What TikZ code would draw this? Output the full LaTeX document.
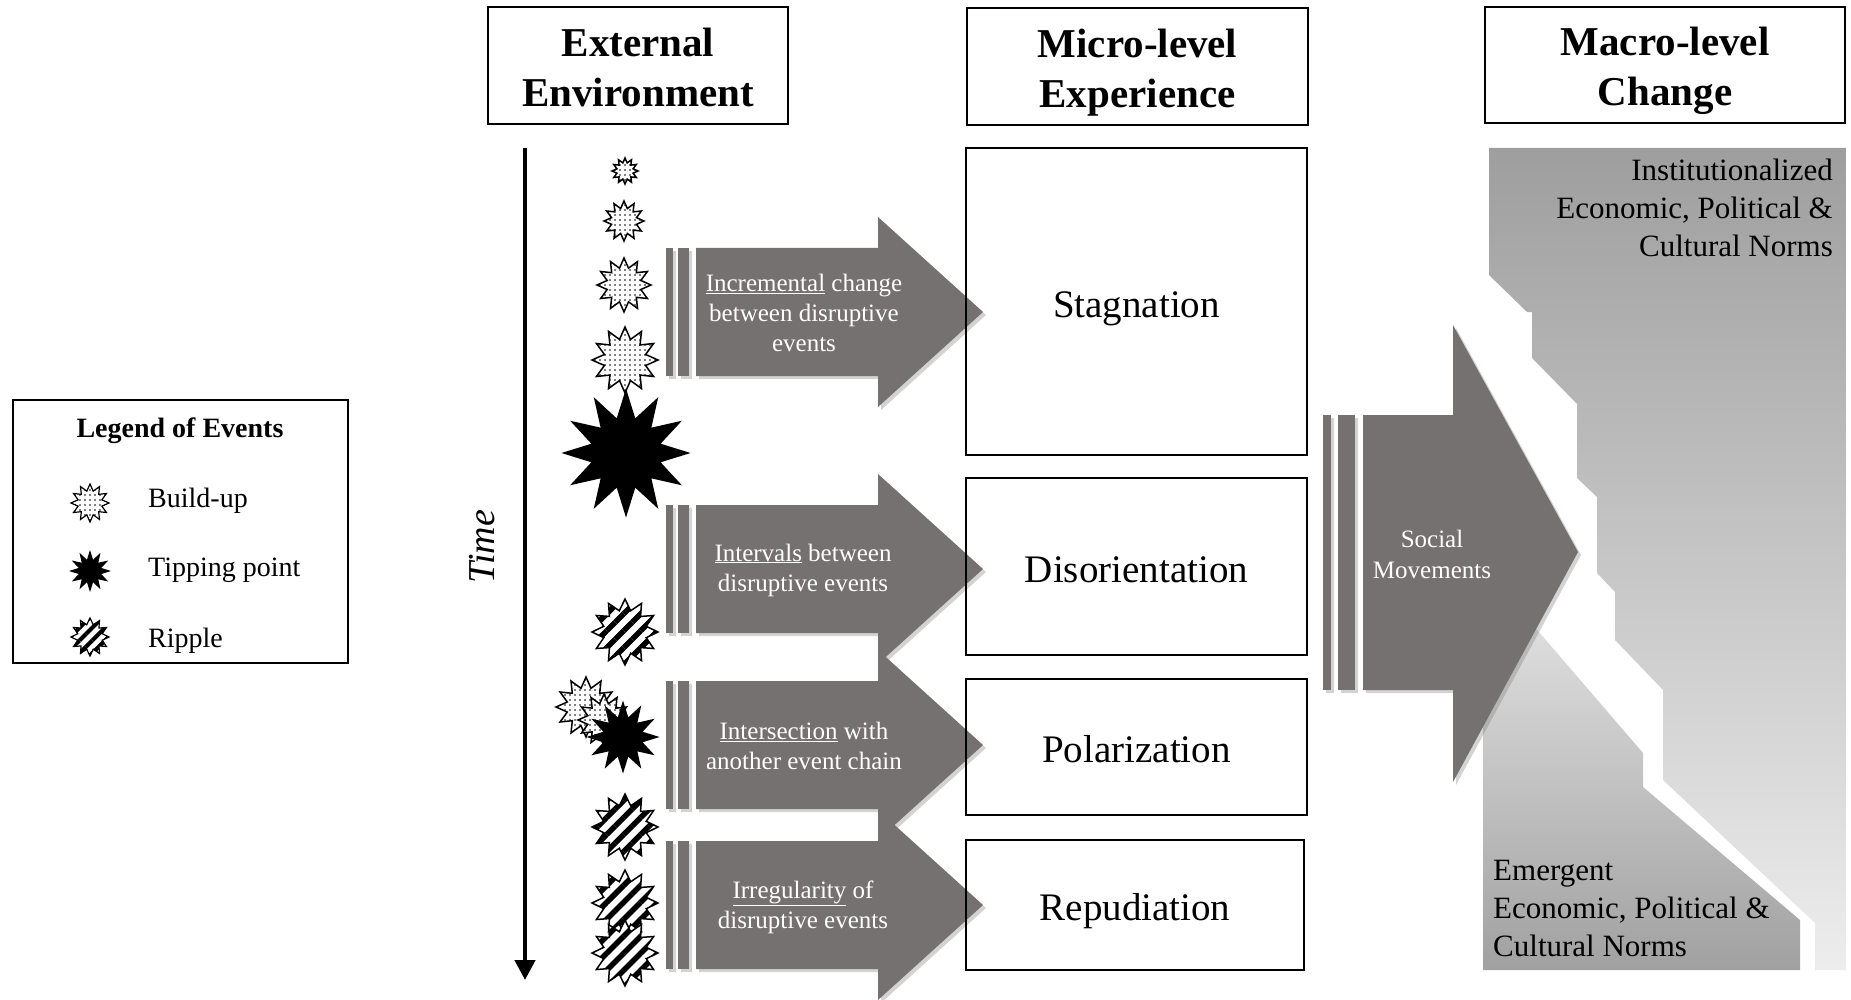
\documentclass[tikz,border=0pt]{standalone}
\usepackage{fontspec}
\setmainfont{Liberation Serif}
\usetikzlibrary{shapes.geometric,patterns.meta,shadows,arrows.meta}
\definecolor{agray}{RGB}{117,113,113}
\tikzset{
  hdrbox/.style={draw, line width=2pt, inner sep=0pt},
  hdrtext/.style={inner sep=0pt, align=center, font=\bfseries\fontsize{41}{50}\selectfont},
  mbox/.style={draw, line width=1.8pt, inner sep=0pt, align=center, text height=40pt, text depth=9pt, font=\fontsize{39}{44}\selectfont},
  atext/.style={text=white, align=center, inner sep=0pt, font=\fontsize{25}{30}\selectfont},
  ashape/.style={fill=agray, drop shadow={opacity=0.35, shadow xshift=3pt, shadow yshift=-3pt}},
  evt/.style={star, star points=12, inner sep=0pt, draw, line width=1.5pt, line join=miter},
  buildup/.style={evt, star point ratio=1.55, preaction={fill=white}, pattern={Dots[radius=0.9pt,distance=5pt]}},
  tipping/.style={evt, star point ratio=1.8, fill=black},
  ripple/.style={evt, star point ratio=1.5, preaction={fill=white}, pattern={Lines[angle=45,distance=12pt,line width=5.5pt]}},
  legtext/.style={anchor=west, inner sep=0pt, font=\fontsize{28}{32}\selectfont},
  normtext/.style={inner sep=0pt, font=\fontsize{31}{38}\selectfont}
}
\newcommand\evarrow[1]{%
  \begin{scope}[shift={(0,#1)}]
    \path[ashape] (666,-64) rectangle (673,64);
    \path[ashape] (678,-64) rectangle (689,64);
    \path[ashape] (696,-64) -- (878,-64) -- (878,-95) -- (983,0) -- (878,95) -- (878,64) -- (696,64) -- cycle;
  \end{scope}}
\begin{document}
\begin{tikzpicture}[x=1pt,y=-1pt]
\useasboundingbox (0,0) rectangle (1851,1000);

% headers
\node[hdrbox, minimum width=300pt, minimum height=117pt] (hext) at (638,65.5) {};
\node[hdrbox, minimum width=341pt, minimum height=117pt] (hmic) at (1137.5,66.5) {};
\node[hdrbox, minimum width=360pt, minimum height=116pt] (hmac) at (1665,65) {};
\node[hdrtext] (hextt) at (638,67.5) {External\\Environment};
\node[hdrtext] (hmict) at (1137.5,73) {Micro-level\\Experience};
\node[hdrtext] (hmact) at (1665,71) {Macro-level\\Change};

% legend
\node[draw, line width=1.8pt, minimum width=335pt, minimum height=263pt] (legend) at (180.5,531.5) {};
\node[inner sep=0pt, font=\bfseries\fontsize{28}{32}\selectfont] (legtitle) at (180,430.5) {Legend of Events};
\node[buildup, minimum size=38pt, line width=1.2pt] (lb) at (90,503) {};
\node[tipping, minimum size=38pt, line width=1.2pt] (lt) at (90,571) {};
\node[ripple, minimum size=38pt, line width=1.2pt, pattern={Lines[angle=45,distance=9pt,line width=4pt]}] (lr) at (90,637) {};
\node[legtext] (lbt) at (148,500.5) {Build-up};
\node[legtext] (ltt) at (148,570.5) {Tipping point};
\node[legtext] (lrt) at (148,640.5) {Ripple};

% time arrow
\coordinate (tA) at (525,148);
\coordinate (tB) at (525,980);
\draw[line width=4.5pt, -{Triangle[width=20pt,length=20pt]}] (tA) -- (tB);
\node[rotate=90, inner sep=0pt, font=\itshape\fontsize{38}{40}\selectfont] (time) at (482,547) {Time};

% macro-level shapes
\shade[top color=white!62!black, bottom color=white!93!black]
  (1489,148) -- (1846,148) -- (1846,970) -- (1815,970) -- (1815,923) -- (1663,780) -- (1663,690)
  -- (1615,640) -- (1615,592) -- (1597,573) -- (1597,497) -- (1577,478) -- (1577,404)
  -- (1532,358) -- (1532,312) -- (1527,312) -- (1489,275) -- cycle;
\shade[top color=white!91!black, bottom color=white!63!black]
  (1483,567) -- (1643,753) -- (1643,787) -- (1800,920) -- (1800,970) -- (1483,970) -- cycle;
\node[normtext, anchor=east, align=right] (inst) at (1833,208) {Institutionalized\\Economic, Political \&\\Cultural Norms};
\node[normtext, anchor=west, align=left] (emer) at (1493,908) {Emergent\\Economic, Political \&\\Cultural Norms};

% event arrows
\evarrow{312}
\evarrow{569}
\evarrow{745}
\evarrow{905}
\node[atext] (a1) at (804,313) {\underline{Incremental} change\\between disruptive\\events};
\node[atext] (a2) at (803,570) {\underline{Intervals} between\\disruptive events};
\node[atext] (a3) at (804,746) {\underline{Intersection} with\\another event chain};
\node[atext] (a4) at (803,907) {\underline{Irregularity} of\\disruptive events};

% social movements arrow
\path[ashape] (1323,415) rectangle (1331,690);
\path[ashape] (1338,415) rectangle (1355,690);
\path[ashape] (1363,415) -- (1453,415) -- (1453,325) -- (1578,552) -- (1453,782) -- (1453,690) -- (1363,690) -- cycle;
\node[atext, font=\fontsize{25}{31}\selectfont] (sm) at (1432,554) {Social\\Movements};

% micro boxes
\node[mbox, minimum width=341pt, minimum height=307pt] (stag) at (1136.5,301.5) {Stagnation};
\node[mbox, minimum width=341pt, minimum height=177pt] (diso) at (1136.5,566.5) {Disorientation};
\node[mbox, minimum width=341pt, minimum height=136pt] (pola) at (1136.5,747) {Polarization};
\node[mbox, minimum width=338pt, minimum height=130pt] (repu) at (1135,905) {Repudiation};

% events
\node[buildup, minimum size=26pt] (e1) at (625,171) {};
\node[buildup, minimum size=40pt] (e2) at (624,221) {};
\node[buildup, minimum size=54pt] (e3) at (624,285) {};
\node[buildup, minimum size=66pt] (e4) at (625,360) {};
\node[tipping, minimum size=124pt] (e5) at (626,453) {};
\node[ripple, minimum size=66pt] (e6) at (625,632) {};
\node[buildup, minimum size=60pt] (e7) at (586,707) {};
\node[buildup, minimum size=52pt] (e8) at (604,720) {};
\node[tipping, minimum size=68pt] (e9) at (623,737) {};
\node[ripple, minimum size=66pt] (e10) at (625,827) {};
\node[ripple, minimum size=66pt] (e11) at (625,903) {};
\node[ripple, minimum size=66pt] (e12) at (625,953) {};
\end{tikzpicture}
\end{document}
